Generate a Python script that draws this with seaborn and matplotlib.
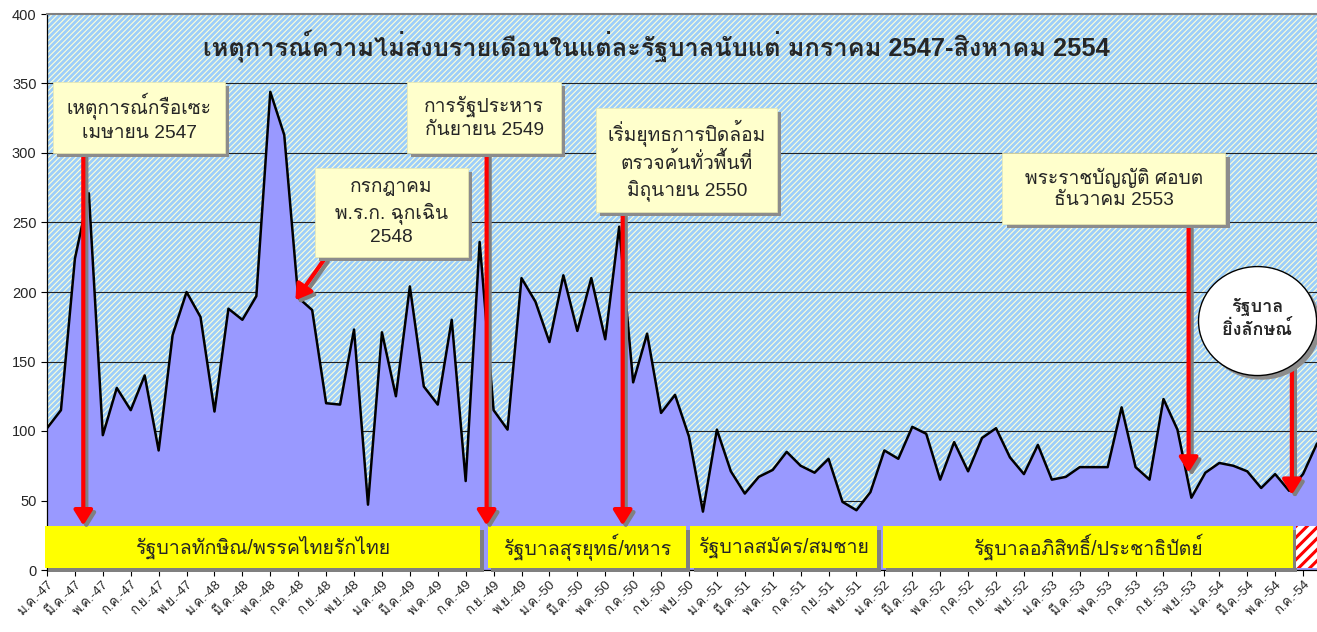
import matplotlib
matplotlib.use('Agg')
import numpy as np
import pandas as pd
import matplotlib.pyplot as plt
import seaborn as sns
from matplotlib.patches import Rectangle, Ellipse, FancyArrowPatch
import matplotlib.patheffects as pe

# =====================================================
# DATA
# =====================================================
month_names = ['ม.ค.', 'ก.พ.', 'มี.ค.', 'เม.ย.', 'พ.ค.', 'มิ.ย.',
               'ก.ค.', 'ส.ค.', 'ก.ย.', 'ต.ค.', 'พ.ย.', 'ธ.ค.']
start_year = 47

incidents = [
    102, 115, 224, 271, 97, 131, 115, 140, 86, 169, 200, 182,   # 2547
    114, 188, 180, 197, 344, 313, 196, 187, 120, 119, 173, 47,  # 2548
    171, 125, 204, 132, 119, 180, 64, 236, 115, 101, 210, 193,  # 2549
    164, 212, 172, 210, 166, 247, 135, 170, 113, 126, 96, 42,   # 2550
    101, 71, 55, 67, 72, 85, 75, 70, 80, 49, 43, 56,            # 2551
    86, 80, 103, 98, 65, 92, 71, 95, 102, 81, 69, 90,           # 2552
    65, 67, 74, 74, 74, 117, 74, 65, 123, 101, 52, 70,          # 2553
    77, 75, 71, 59, 69, 57, 69, 91,                             # 2554
]

governments = ['รัฐบาลทักษิณ/พรรคไทยรักไทย', 'รัฐบาลสุรยุทธ์/ทหาร',
               'รัฐบาลสมัคร/สมชาย', 'รัฐบาลอภิสิทธิ์/ประชาธิปัตย์']

events = ['เหตุการณ์กรือเซะ\nเมษายน 2547',
          'กรกฎาคม\nพ.ร.ก. ฉุกเฉิน\n2548',
          'การรัฐประหาร\nกันยายน 2549',
          'เริ่มยุทธการปิดล้อม\nตรวจค้นทั่วพื้นที่\nมิถุนายน 2550',
          'พระราชบัญญัติ ศอบต\nธันวาคม 2553']

title = 'เหตุการณ์ความไม่สงบรายเดือนในแต่ละรัฐบาลนับแต่ มกราคม 2547-สิงหาคม 2554'

# =====================================================
# STYLE (Loma has the Thai glyphs, Liberation Sans for digits)
# =====================================================
sns.set_style('ticks')
plt.rcParams['font.family'] = ['Liberation Sans', 'Loma', 'DejaVu Sans']
plt.rcParams['hatch.linewidth'] = 0.8

# =====================================================
# FIGURE
# =====================================================
x = np.arange(len(incidents))
fig = plt.figure(figsize=(13.17, 6.32), dpi=100)
ax = fig.add_axes([47 / 1317, 62 / 632, 1270 / 1317, 556 / 632])

# patterned plot background
ax.add_patch(Rectangle((0, 0), 1, 1, transform=ax.transAxes, facecolor='#9DCEFA',
                       edgecolor='#FFFFD6', hatch='/' * 6, lw=0, zorder=0))
for g in range(50, 400, 50):
    ax.axhline(g, color='#222222', lw=0.8, zorder=0.5)

ax.fill_between(x, incidents, color='#9999FF', lw=0, zorder=1)
sns.lineplot(x=x, y=incidents, color='black', lw=1.8, ax=ax, zorder=2)

# government bars
shadow = [pe.SimplePatchShadow(offset=(2.5, -2.5), shadow_rgbFace='#808080', alpha=1), pe.Normal()]
gov_spans = [(-0.15, 31.05), (31.6, 45.8), (46.1, 59.5), (59.9, 89.3)]
for name, (a, b) in zip(governments, gov_spans):
    ax.add_patch(Rectangle((a, 1.2), b - a, 30.3, facecolor='yellow', lw=0,
                           zorder=3, clip_on=False, path_effects=shadow))
    ax.text((a + b) / 2, 16.5, name, ha='center', va='center', fontsize=14.1, zorder=6)
with plt.rc_context({'hatch.linewidth': 2.2}):
    ax.add_patch(Rectangle((89.5, 1.2), 1.6, 30.3, facecolor='white', edgecolor='red',
                           hatch='///', lw=0, zorder=3, clip_on=False))

# arrows
arrow_fx = [pe.SimplePatchShadow(offset=(2.2, -2.2), shadow_rgbFace='#808080', alpha=1),
            pe.SimpleLineShadow(offset=(2.2, -2.2), shadow_color='#808080', alpha=1),
            pe.Normal()]
arrows = [((2.6, 299), (2.6, 32)), ((31.5, 299), (31.5, 32)), ((19.9, 224), (17.8, 194)),
          ((41.25, 257), (41.25, 32)), ((81.8, 248), (81.8, 70)), ((89.2, 148), (89.2, 54))]
for p0, p1 in arrows:
    ax.add_patch(FancyArrowPatch(p0, p1, arrowstyle='-|>,head_length=0.45,head_width=0.28',
                                 mutation_scale=20, lw=3, color='red', shrinkA=0, shrinkB=0,
                                 zorder=4, path_effects=arrow_fx))

# event boxes
boxes = [(0.43, 300, 12.33, 51), (19.21, 225.2, 10.97, 64), (25.81, 300, 11.04, 51),
         (39.36, 257.6, 12.97, 74.8), (68.46, 248.9, 15.98, 51.1)]
box_fx = [pe.SimplePatchShadow(offset=(3, -3), shadow_rgbFace='#8C8C8C', alpha=1), pe.Normal()]
for label, (bx, by, bw, bh) in zip(events, boxes):
    ax.add_patch(Rectangle((bx, by), bw, bh, facecolor='#FFFFCC', edgecolor='#E8E8B0',
                           lw=0.5, zorder=5, path_effects=box_fx))
    ax.text(bx + bw / 2, by + bh / 2, label, ha='center', va='center', fontsize=13.8,
            linespacing=1.35, zorder=6)

# circle for the new government
ax.add_patch(Ellipse((86.74, 179.1), 8.46, 78.4, facecolor='white', edgecolor='black',
                     lw=1, zorder=5, path_effects=box_fx))
ax.text(86.74, 181, 'รัฐบาล\nยิ่งลักษณ์', ha='center', va='center', fontsize=13,
        fontweight='bold', linespacing=1.3, zorder=6)

ax.text(0.48, 0.944, title, transform=ax.transAxes, ha='center', va='center',
        fontsize=18.3, fontweight='bold', zorder=6)

# axes
ax.set_xlim(0, 91)
ax.set_ylim(0, 400)
ax.set_yticks(range(0, 401, 50))
ticks = list(range(0, len(incidents), 2))
ax.set_xticks(ticks)
ax.set_xticklabels([f'{month_names[i % 12]}-{start_year + i // 12}' for i in ticks],
                   rotation=45, ha='right', rotation_mode='anchor', fontsize=9.5)
ax.tick_params(axis='y', labelsize=10.5, length=4, color='black')
ax.tick_params(axis='x', length=4, color='black', pad=2)
ax.set_xlabel('')
ax.set_ylabel('')
for s in ['left', 'bottom']:
    ax.spines[s].set_color('black')
    ax.spines[s].set_linewidth(0.9)
ax.spines['top'].set_color('#808080')
ax.spines['top'].set_linewidth(1.5)
ax.spines['right'].set_visible(False)

plt.savefig('out.png', dpi=100)
